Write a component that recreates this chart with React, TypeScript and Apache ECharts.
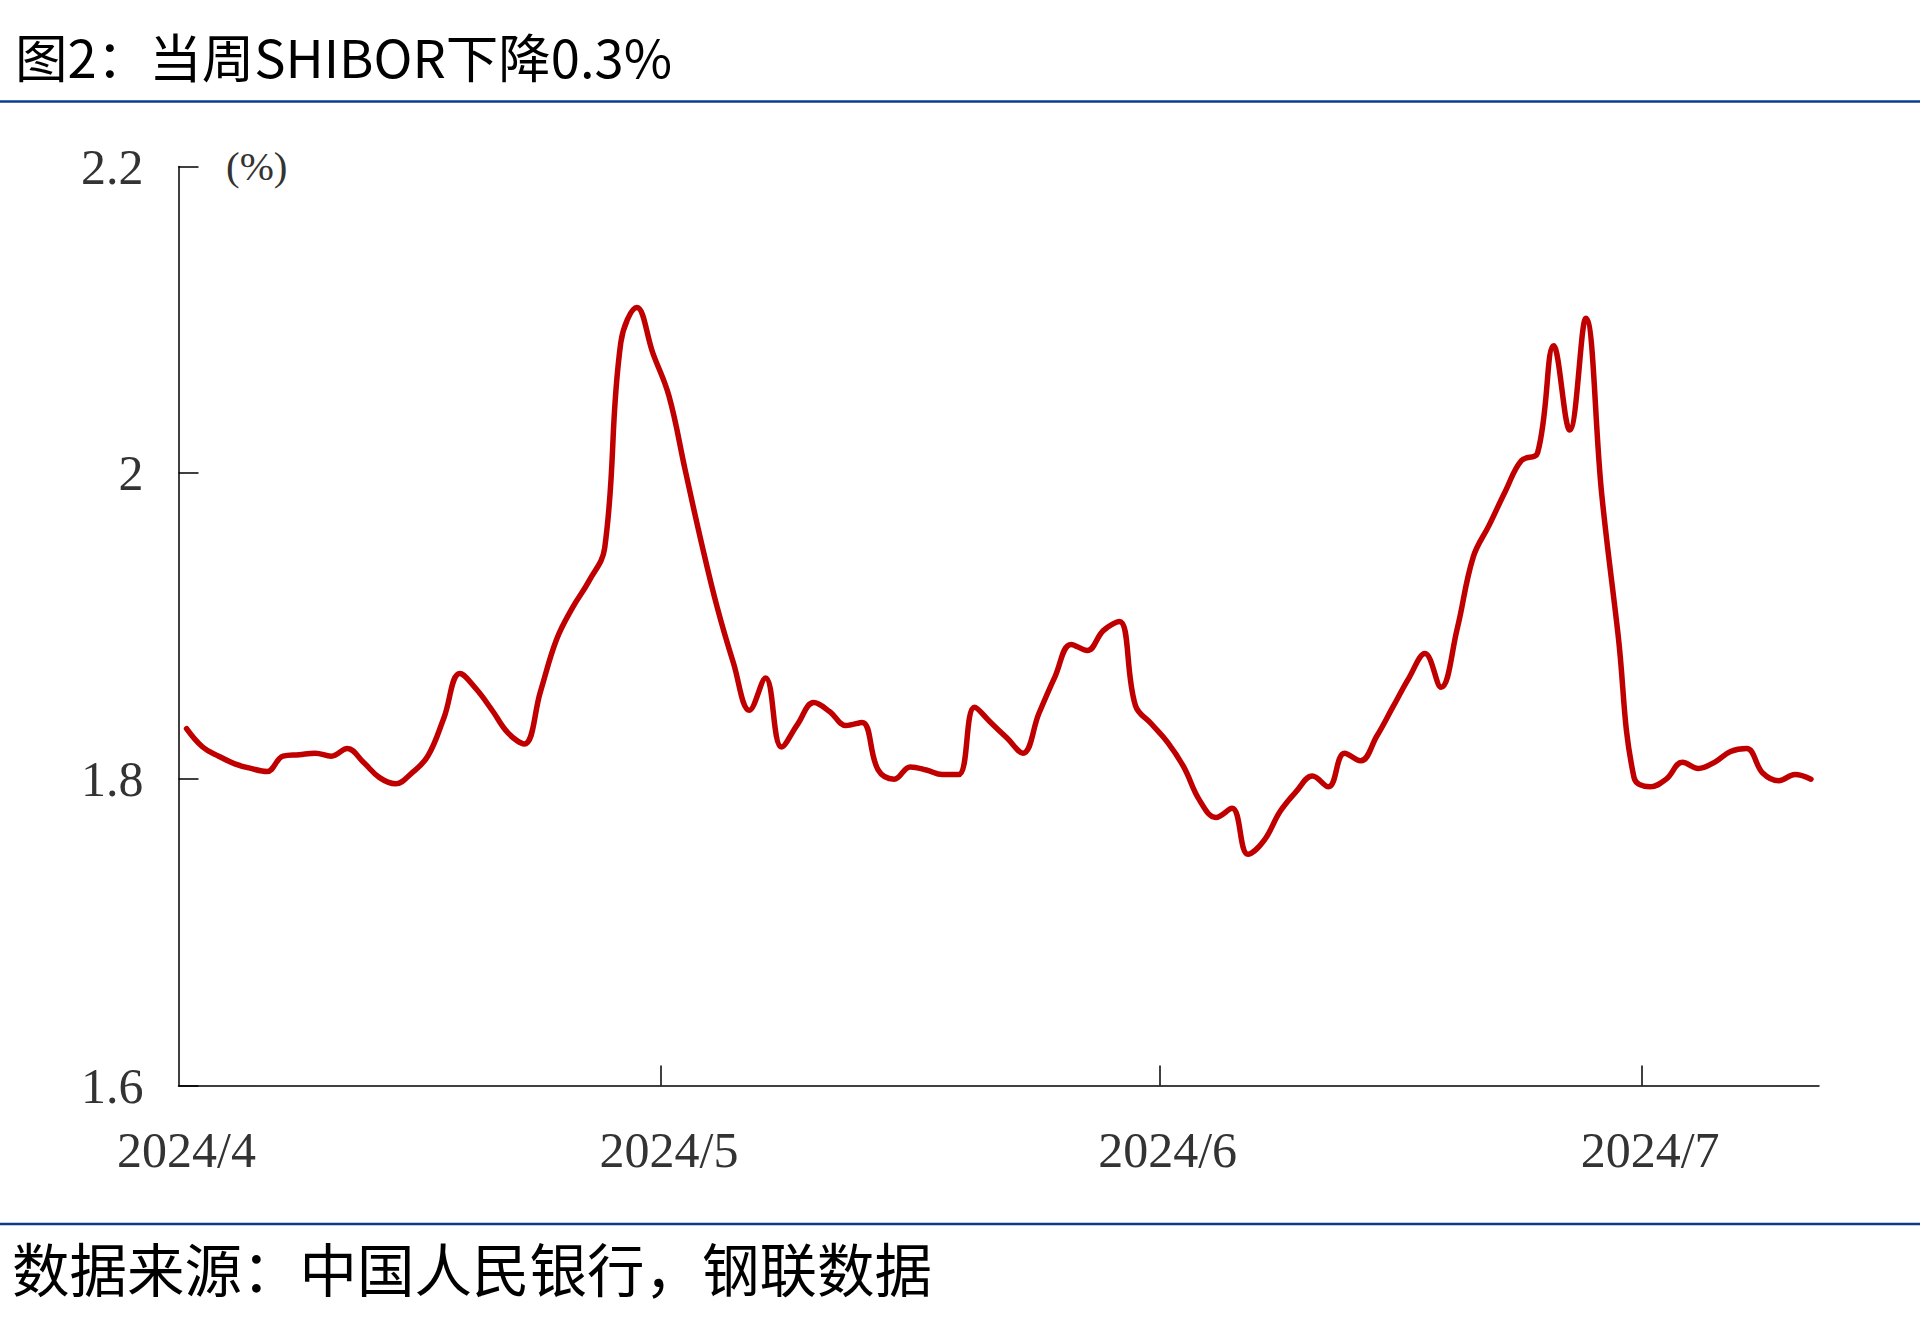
import React, { useEffect, useRef } from 'react';
import * as echarts from 'echarts';

// ---- data ----
const START_YEAR = 2024;
const START_MONTH = 4; // April
const DAY_COUNT = 102; // 2024-04-01 .. 2024-07-11

const dates: string[] = Array.from({ length: DAY_COUNT }, (_, i) => {
  const d = new Date(Date.UTC(START_YEAR, START_MONTH - 1, 1 + i));
  const m = String(d.getUTCMonth() + 1).padStart(2, '0');
  const day = String(d.getUTCDate()).padStart(2, '0');
  return `${d.getUTCFullYear()}-${m}-${day}`;
});

const shiborValues: number[] = [
  1.833, 1.821, 1.815, 1.810, 1.807, 1.805, 1.815, 1.816, 1.817, 1.815,
  1.820, 1.811, 1.801, 1.797, 1.804, 1.815, 1.840, 1.869, 1.859, 1.845,
  1.830, 1.823, 1.857, 1.891, 1.912, 1.929, 1.951, 2.085, 2.108, 2.078,
  2.050, 2.002, 1.955, 1.912, 1.876, 1.845, 1.866, 1.821, 1.836, 1.850,
  1.844, 1.835, 1.837, 1.806, 1.800, 1.808, 1.806, 1.803, 1.803, 1.847,
  1.837, 1.827, 1.817, 1.843, 1.867, 1.888, 1.884, 1.897, 1.903, 1.848,
  1.836, 1.824, 1.808, 1.786, 1.775, 1.781, 1.751, 1.760, 1.779, 1.792,
  1.802, 1.795, 1.817, 1.812, 1.828, 1.847, 1.866, 1.882, 1.860, 1.898,
  1.945, 1.966, 1.988, 2.008, 2.013, 2.083, 2.028, 2.101, 1.985, 1.895,
  1.801, 1.795, 1.800, 1.811, 1.807, 1.811, 1.818, 1.820, 1.804, 1.799,
  1.803, 1.800,
];

const yMin = 1.6;
const yMax = 2.2;
const yInterval = 0.2;

const titleText = '图2：当周SHIBOR下降0.3%';
const sourceText = '数据来源：中国人民银行，钢联数据';
const unitText = '(%)';

const monthStartIdx: number[] = dates
  .map((d, i) => (d.endsWith('-01') ? i : -1))
  .filter((i) => i > 0);

const fmtMonth = (d: string) => {
  const [y, m] = d.split('-');
  return `${y}/${parseInt(m, 10)}`;
};

export default function App() {
  const ref = useRef<HTMLDivElement>(null);

  useEffect(() => {
    if (!ref.current) return;
    const chart = echarts.init(ref.current, null, { renderer: 'svg' });
    const serif = '"Liberation Serif", "Times New Roman", serif';
    const cjk = '"Noto Sans CJK SC", sans-serif';
    const gridLeft = 178.5;
    const gridRight = 101;
    const gridTop = 166.5;
    const gridBottom = 245.5;

    chart.setOption({
      animation: false,
      backgroundColor: '#ffffff',
      grid: {
        left: gridLeft,
        right: gridRight,
        top: gridTop,
        bottom: gridBottom,
        containLabel: false,
      },
      xAxis: [
        {
          type: 'category',
          data: dates,
          boundaryGap: true,
          axisLine: { show: true, lineStyle: { color: '#000', width: 1.5 } },
          axisTick: { show: false },
          splitLine: { show: false },
          axisLabel: {
            show: true,
            interval: (_i: number, v: string) => v.endsWith('-01'),
            formatter: (v: string) => fmtMonth(v),
            color: '#333',
            fontFamily: serif,
            fontSize: 50,
            margin: 39,
          },
        },
        {
          type: 'value',
          min: 0,
          max: DAY_COUNT,
          position: 'bottom',
          axisLine: { show: false },
          axisLabel: { show: false },
          splitLine: { show: false },
          axisTick: {
            show: true,
            inside: true,
            length: 20,
            customValues: monthStartIdx,
            lineStyle: { color: '#000', width: 1.5 },
          },
        },
      ],
      yAxis: {
        type: 'value',
        min: yMin,
        max: yMax,
        interval: yInterval,
        axisLine: { show: true, lineStyle: { color: '#000', width: 1.5 } },
        axisTick: { show: true, inside: true, length: 20, lineStyle: { color: '#000', width: 1.5 } },
        splitLine: { show: false },
        axisLabel: {
          color: '#333',
          fontFamily: serif,
          fontSize: 50,
          margin: 35,
          formatter: (v: number) => String(Math.round(v * 10) / 10),
        },
      },
      series: [
        {
          type: 'line',
          xAxisIndex: 0,
          data: shiborValues,
          smooth: 0.4,
          showSymbol: false,
          symbol: 'none',
          lineStyle: { color: '#C00000', width: 5.5, cap: 'round', join: 'round' },
        },
      ],
      graphic: [
        {
          type: 'text',
          x: 15,
          y: 55,
          style: {
            text: titleText,
            fill: '#000',
            fontFamily: cjk,
            fontSize: 52.5,
            verticalAlign: 'middle',
          },
        },
        {
          type: 'line',
          shape: { x1: 0, y1: 101.5, x2: 1920, y2: 101.5 },
          style: { stroke: '#0B3C8C', lineWidth: 2.5 },
        },
        {
          type: 'text',
          x: 226,
          y: 166,
          style: {
            text: unitText,
            fill: '#333',
            fontFamily: serif,
            fontSize: 41,
            verticalAlign: 'middle',
          },
        },
        {
          type: 'line',
          shape: { x1: 0, y1: 1224, x2: 1920, y2: 1224 },
          style: { stroke: '#0B3C8C', lineWidth: 2.5 },
        },
        {
          type: 'text',
          x: 12,
          y: 1267,
          style: {
            text: sourceText,
            fill: '#000',
            fontFamily: cjk,
            fontSize: 57.5,
            verticalAlign: 'middle',
          },
        },
      ],
    });

    return () => chart.dispose();
  }, []);

  return (
    <div
      ref={ref}
      style={{ position: 'absolute', left: 0, top: 0, width: 1920, height: 1331 }}
    />
  );
}
